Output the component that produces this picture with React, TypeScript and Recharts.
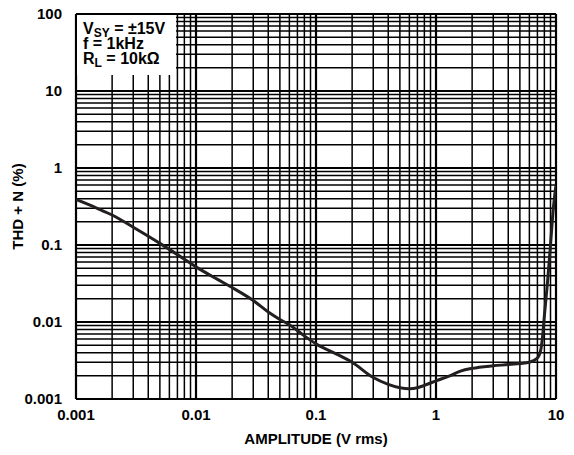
import React from 'react';
import { LineChart, Line, XAxis, YAxis, CartesianGrid, ReferenceLine, Label } from 'recharts';

const FONT = '"Liberation Sans", Arial, Helvetica, sans-serif';

// Curve: THD+N (%) vs amplitude (V rms)
const amplitude = [
  0.001, 0.0015, 0.002, 0.003, 0.005, 0.007, 0.01, 0.015, 0.02, 0.03, 0.04, 0.05, 0.06, 0.08,
  0.1, 0.15, 0.2, 0.3, 0.4, 0.5, 0.6, 0.7, 0.8, 1.0, 1.3, 1.6, 2.0, 3.0, 4.0, 5.0, 6.0, 7.0,
  7.5, 7.8, 8.0, 8.5, 9.0, 9.5, 10,
];
const thdn = [
  0.39, 0.3, 0.245, 0.17, 0.105, 0.075, 0.052, 0.036, 0.028, 0.019, 0.0135, 0.0108, 0.0092, 0.0066,
  0.0052, 0.0038, 0.0030, 0.0019, 0.00155, 0.0014, 0.00136, 0.0014, 0.0015, 0.00172, 0.002, 0.0023,
  0.0025, 0.0027, 0.0028, 0.0029, 0.003, 0.0034, 0.0045, 0.0075, 0.012, 0.033, 0.1, 0.3, 0.6,
];

// Axes
const xDecades = [0.001, 0.01, 0.1, 1, 10];
const xTickLabels = ['0.001', '0.01', '0.1', '1', '10'];
const yDecades = [0.001, 0.01, 0.1, 1, 10, 100];
const yTickLabels = ['0.001', '0.01', '0.1', '1', '10', '100'];
const minorSteps = [1, 2, 3, 4, 5, 6, 7, 8, 9];

const xGridTicks = [
  ...xDecades.slice(0, -1).flatMap((d) => minorSteps.map((m) => +(m * d).toPrecision(6))),
  10,
];
const yGridTicks = [
  ...yDecades.slice(0, -1).flatMap((d) => minorSteps.map((m) => +(m * d).toPrecision(6))),
  100,
];

const legendLines = [
  { main: 'V', sub: 'SY', rest: ' = ±15V' },
  { main: 'f = 1kHz', sub: '', rest: '' },
  { main: 'R', sub: 'L', rest: ' = 10kΩ' },
];

const fmt = (decades: number[], labels: string[]) => (v: number) => {
  const i = decades.findIndex((d) => Math.abs(v / d - 1) < 1e-6);
  return i >= 0 ? labels[i] : '';
};

const tickStyle = { fill: '#000', fontSize: 15, fontWeight: 'bold', fontFamily: FONT };

export default function App() {
  const data = amplitude.map((a, i) => ({ amp: a, thd: thdn[i] }));
  return (
    <div style={{ position: 'absolute', left: 0, top: 0, width: 574, height: 455, background: '#fff', fontFamily: FONT }}>
      <LineChart width={574} height={455} data={data} margin={{ top: 14, right: 18, bottom: 0, left: 0 }}>
        <CartesianGrid stroke="#000" strokeWidth={1.5} />
        <XAxis
          dataKey="amp"
          type="number"
          scale="log"
          domain={[0.001, 10]}
          allowDataOverflow
          ticks={xGridTicks}
          interval={0}
          tickFormatter={fmt(xDecades, xTickLabels)}
          height={56}
          tickLine={false}
          axisLine={false}
          tickSize={0}
          tickMargin={10}
          tick={tickStyle}
        >
          <Label
            value="AMPLITUDE (V rms)"
            position="insideBottom"
            offset={11}
            style={{ fill: '#000', fontSize: 15, fontWeight: 'bold', fontFamily: FONT }}
          />
        </XAxis>
        <YAxis
          dataKey="thd"
          type="number"
          scale="log"
          domain={[0.001, 100]}
          allowDataOverflow
          ticks={yGridTicks}
          interval={0}
          tickFormatter={fmt(yDecades, yTickLabels)}
          width={76}
          tickLine={false}
          axisLine={false}
          tickSize={0}
          tickMargin={14}
          tick={tickStyle}
        >
          <Label
            content={({ viewBox }: any) => {
              const cy = viewBox.y + viewBox.height / 2;
              return (
                <text
                  x={23}
                  y={cy}
                  transform={`rotate(-90 23 ${cy})`}
                  textAnchor="middle"
                  style={{ fill: '#000', fontSize: 15, fontWeight: 'bold', fontFamily: FONT }}
                >
                  THD + N (%)
                </text>
              );
            }}
          />
        </YAxis>
        {xDecades.map((d) => (
          <ReferenceLine key={'x' + d} x={d} stroke="#000" strokeWidth={2.2} ifOverflow="extendDomain" />
        ))}
        {yDecades.map((d) => (
          <ReferenceLine key={'y' + d} y={d} stroke="#000" strokeWidth={2.2} ifOverflow="extendDomain" />
        ))}
        <Line
          type="monotone"
          dataKey="thd"
          stroke="#231f20"
          strokeWidth={3}
          dot={false}
          isAnimationActive={false}
        />
      </LineChart>
      <div
        style={{
          position: 'absolute',
          left: 77,
          top: 15,
          width: 99,
          height: 60,
          background: '#fff',
          fontWeight: 'bold',
          fontSize: 16,
          lineHeight: '15px',
          color: '#000',
          paddingLeft: 6,
          paddingTop: 6,
          boxSizing: 'border-box',
        }}
      >
        {legendLines.map((l, i) => (
          <div key={i} style={{ whiteSpace: 'nowrap' }}>
            {l.main}
            {l.sub ? <sub style={{ fontSize: 12, lineHeight: 0, verticalAlign: '-3px' }}>{l.sub}</sub> : null}
            {l.rest}
          </div>
        ))}
      </div>
    </div>
  );
}
